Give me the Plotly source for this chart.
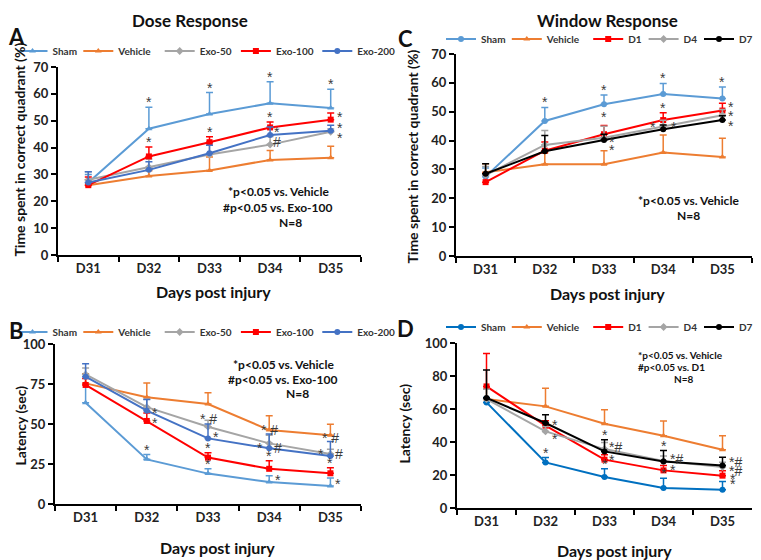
import plotly.graph_objects as go

days = ["D31", "D32", "D33", "D34", "D35"]

# A - dose response, time spent in correct quadrant (%)
a_names = ["Sham", "Vehicle", "Exo-50", "Exo-100", "Exo-200"]
a_sham = [27, 47, 52.5, 56.5, 54.7]
a_vehicle = [26, 29.4, 31.5, 35.4, 36.2]
a_exo50 = [28, 32.7, 37.4, 41.1, 45.9]
a_exo100 = [26, 36.7, 42, 47.5, 50.4]
a_exo200 = [27, 31.7, 37.9, 44.7, 46.3]
a_err = {"Sham": [3, 8, 8, 8, 7], "Vehicle": [2, 2, 5, 3.5, 4.3], "Exo-50": [3, 3, 4, 3, 1],
         "Exo-100": [3, 3.5, 2, 2, 2.5], "Exo-200": [4, 3, 3, 3, 2]}

# B - dose response, latency (sec)
b_sham = [63.3, 27.9, 19, 13.7, 11.2]
b_vehicle = [75.4, 66.7, 62.5, 46.2, 42.9]
b_exo50 = [81, 60.5, 48.3, 37.9, 31.2]
b_exo100 = [74.4, 51.9, 29, 22, 19.2]
b_exo200 = [79.6, 58.3, 41, 34.8, 30]
b_err = {"Sham": [12, 3, 3, 4, 5], "Vehicle": [6, 9, 7, 9, 7], "Exo-50": [4, 5, 4, 5, 3],
         "Exo-100": [4, 5, 3, 5, 3.5], "Exo-200": [8, 7, 9, 9, 9]}

# C - window response, time spent in correct quadrant (%)
c_names = ["Sham", "Vehicle", "D1", "D4", "D7"]
c_sham = [27.5, 46.8, 52.6, 56.1, 54.6]
c_vehicle = [29, 31.8, 31.8, 35.9, 34.3]
c_d1 = [25.6, 36.5, 42.2, 47.1, 50.4]
c_d4 = [28, 38.5, 41, 45, 48.8]
c_d7 = [28.5, 36.3, 40.2, 43.9, 47.1]
c_err = {"Sham": [3, 4.7, 3.2, 3.7, 4], "Vehicle": [3, 4, 4.7, 6, 6.5], "D1": [3, 3, 3, 2.5, 2.5],
         "D4": [3, 5, 4, 2, 2], "D7": [3.5, 5.5, 2, 1.5, 1.5]}

# D - window response, latency (sec)
d_sham = [64, 27.6, 18.8, 12.1, 11.1]
d_vehicle = [66, 61.6, 51.1, 43.8, 35.3]
d_d1 = [73.7, 49.9, 29.3, 22.8, 19.6]
d_d4 = [66, 46.4, 35.7, 28.5, 24.8]
d_d7 = [66.7, 51.5, 34.3, 28.2, 25.8]
d_err = {"Sham": [3, 3, 5, 6, 5], "Vehicle": [6, 11, 8.5, 9, 8.5], "D1": [20, 3, 3, 3, 3],
         "D4": [6, 3, 4, 3, 3], "D7": [17, 5, 7, 6.6, 5]}

# significance marks: (series, day index, text, anchor "top"=error bar top / "pt"=point, dx, dy)
a_marks = [("Sham", 1, "*", "top", 0, 0), ("Sham", 2, "*", "top", 0, 0), ("Sham", 3, "*", "top", 0, 0),
           ("Sham", 4, "*", "top", 0, 0), ("Exo-100", 1, "*", "top", 0, 0), ("Exo-100", 2, "*", "top", 0, 0),
           ("Exo-100", 3, "*", "top", 0, 0), ("Exo-200", 3, "*", "pt", 7, 5), ("Exo-50", 3, "#", "pt", 7, 5),
           ("Exo-100", 4, "*", "pt", 9, 5), ("Exo-200", 4, "*", "pt", 9, 5), ("Exo-50", 4, "*", "pt", 9, -4)]
b_marks = [("Exo-200", 1, "*", "pt", 8, 0), ("Exo-100", 1, "*", "pt", 8, 0), ("Sham", 1, "*", "top", 0, 0),
           ("Exo-200", 2, "* #", "top", 0, 0), ("Exo-200", 2, "*", "pt", 8, 3), ("Exo-100", 2, "*", "top", 0, 0),
           ("Sham", 2, "*", "top", 0, 0), ("Exo-200", 3, "* #", "top", 0, -1), ("Exo-200", 3, "*   #", "pt", 0, 2),
           ("Exo-100", 3, "*", "top", 0, 0), ("Sham", 3, "*", "pt", 9, 4), ("Exo-200", 4, "* #", "top", 0, -1),
           ("Exo-200", 4, "*   #", "pt", 0, 4), ("Exo-100", 4, "*", "top", 0, 0), ("Sham", 4, "*", "pt", 8, 4)]
c_marks = [("Sham", 1, "*", "top", 0, 0), ("Sham", 2, "*", "top", 0, 0), ("Sham", 3, "*", "top", 0, 0),
           ("Sham", 4, "*", "top", 0, 0), ("D4", 2, "*", "top", 0, 4), ("D7", 2, "*", "pt", 8, 0),
           ("D7", 2, "*", "pt", 8, -8), ("D1", 3, "*", "top", 0, 0), ("D7", 3, "*    *", "pt", 0, 4),
           ("D1", 4, "*", "pt", 9, 6), ("D4", 4, "*", "pt", 9, 1), ("D7", 4, "*", "pt", 9, -4)]
d_marks = [("D7", 1, "*", "pt", 9, 0), ("D4", 1, "*", "pt", 9, -6), ("Sham", 1, "*", "top", 0, 0),
           ("D7", 2, "*", "top", 0, 0), ("D7", 2, "*#", "pt", 11, 6), ("D1", 2, "*", "pt", 7, 2),
           ("Sham", 2, "*", "top", 0, 0), ("D7", 3, "*", "top", 0, 0), ("D7", 3, "*#", "pt", 13, 4),
           ("D1", 3, "*", "pt", 9, 2), ("Sham", 3, "*", "top", 0, 0), ("D7", 4, "*#", "pt", 13, 5),
           ("D4", 4, "*#", "pt", 13, -2), ("D1", 4, "*", "pt", 10, -1), ("Sham", 4, "*", "pt", 10, 8)]

FONT = "Lato"
STAR_FONT = "Liberation Sans"
DARK = "#3a3a3a"
W, H = 761, 560
OFF = 8  # default body margin of the html page


def px(x):  # page pixel -> paper fraction
    return (x - OFF) / W


def py(y):
    return 1 - (y - OFF) / H


panels = [
    # values, errors, colours, symbols, axis suffix, legend, marks
    (dict(zip(a_names, [a_sham, a_vehicle, a_exo50, a_exo100, a_exo200])), a_err,
     ["#5B9BD5", "#ED7D31", "#A5A5A5", "#FF0000", "#4472C4"],
     ["triangle-up", "triangle-up", "diamond", "square", "circle"], "", "legend", a_marks),
    (dict(zip(a_names, [b_sham, b_vehicle, b_exo50, b_exo100, b_exo200])), b_err,
     ["#5B9BD5", "#ED7D31", "#A5A5A5", "#FF0000", "#4472C4"],
     ["triangle-up", "triangle-up", "diamond", "square", "circle"], "2", "legend2", b_marks),
    (dict(zip(c_names, [c_sham, c_vehicle, c_d1, c_d4, c_d7])), c_err,
     ["#5B9BD5", "#ED7D31", "#FF0000", "#A5A5A5", "#000000"],
     ["circle", "triangle-up", "square", "diamond", "circle"], "3", "legend3", c_marks),
    (dict(zip(c_names, [d_sham, d_vehicle, d_d1, d_d4, d_d7])), d_err,
     ["#0070C0", "#ED7D31", "#FF0000", "#A5A5A5", "#000000"],
     ["circle", "triangle-up", "square", "diamond", "circle"], "4", "legend4", d_marks),
]

fig = go.Figure()
annotations = []
for vals, errs, colors, symbols, ax, leg, marks in panels:
    for (name, y), c, s in zip(vals.items(), colors, symbols):
        fig.add_trace(go.Scatter(
            x=days, y=y, name=name, mode="lines+markers", xaxis="x" + ax, yaxis="y" + ax, legend=leg,
            legendwidth=len(name) * 5.2,
            line=dict(color=c, width=2), marker=dict(color=c, symbol=s, size=6),
            error_y=dict(type="data", symmetric=False, array=errs[name], arrayminus=[0] * 5,
                         color=c, thickness=1.5, width=3.5)))
    for name, i, txt, where, dx, dy in marks:
        y = vals[name][i] + (errs[name][i] if where == "top" else 0)
        annotations.append(dict(x=i, y=y, xref="x" + ax, yref="y" + ax, text=txt, showarrow=False,
                                xanchor="center", yanchor="bottom" if where == "top" else "middle",
                                xshift=dx, yshift=dy + (-5 if where == "top" else -2),
                                font=dict(family=STAR_FONT, size=14, color=DARK)))

axis_common = dict(showline=True, linecolor="black", linewidth=2, ticks="outside", ticklen=5,
                   tickwidth=2, tickcolor="black", showgrid=False, zeroline=False,
                   tickfont=dict(family=FONT, size=13, color="#222", weight="bold"))
xax = dict(axis_common, type="category", range=[-0.5, 4.5], tickson="boundaries")


def leg(xc, yc):
    return dict(orientation="h", x=px(xc), y=py(yc), xanchor="center", yanchor="middle",
                bgcolor="rgba(0,0,0,0)", itemwidth=30, tracegroupgap=0,
                font=dict(family=FONT, size=10, color="#333", weight="bold"))


fig.update_layout(
    width=W, height=H, margin=dict(l=0, r=0, t=0, b=0, autoexpand=False),
    paper_bgcolor="white", plot_bgcolor="white", showlegend=True,
    xaxis=dict(xax, domain=[px(58), px(361)], anchor="y"),
    yaxis=dict(axis_common, domain=[py(255), py(67)], range=[0, 70], dtick=10, anchor="x"),
    xaxis2=dict(xax, domain=[px(55), px(361)], anchor="y2"),
    yaxis2=dict(axis_common, domain=[py(504), py(344)], range=[0, 100], dtick=25, anchor="x2"),
    xaxis3=dict(xax, domain=[px(456), px(752)], anchor="y3"),
    yaxis3=dict(axis_common, domain=[py(256), py(54)], range=[0, 70], dtick=10, anchor="x3"),
    xaxis4=dict(xax, domain=[px(457), px(752)], anchor="y4"),
    yaxis4=dict(axis_common, domain=[py(508), py(343)], range=[0, 100], dtick=20, anchor="x4"),
    legend=leg(206, 51),
    legend2=leg(206, 332),
    legend3=leg(598, 39),
    legend4=leg(598, 327),
)


def txt(x, y, s, size=12, anchor="center", angle=0, yanchor="middle"):
    annotations.append(dict(x=px(x), y=py(y), xref="paper", yref="paper", text=s, showarrow=False,
                            xanchor=anchor, yanchor=yanchor, textangle=angle,
                            font=dict(family=FONT, size=size, color="#111", weight="bold")))


txt(190, OFF, "Dose Response", 17, yanchor="top")
txt(607, OFF, "Window Response", 17, yanchor="top")
txt(16, 36, "A", 22)
txt(405, 38, "C", 22)
txt(16, 330, "B", 22)
txt(405, 328, "D", 22)
# axis titles
txt(OFF, 150, "Time spent in correct quadrant (%)", 14, anchor="left", angle=-90)
txt(402, 156, "Time spent in correct quadrant (%)", 14, anchor="left", angle=-90)
txt(OFF + 1, 426, "Latency (sec)", 14, anchor="left", angle=-90)
txt(393, 424, "Latency (sec)", 14, anchor="left", angle=-90)
txt(213, 291, "Days post injury", 16)
txt(607, 293, "Days post injury", 16)
txt(217, 547, "Days post injury", 16)
txt(614, 550, "Days post injury", 16)
# statistics notes
txt(278, 192, "*p<0.05 vs. Vehicle", 12)
txt(278, 207, "#p<0.05 vs. Exo-100", 12)
txt(290, 222, "N=8", 12)
txt(688, 200, "*p<0.05 vs. Vehicle", 12)
txt(688, 215, "N=8", 12)
txt(283, 364, "*p<0.05 vs. Vehicle", 12)
txt(283, 379, "#p<0.05 vs. Exo-100", 12)
txt(297, 393, "N=8", 12)
txt(636, 355, "*p<0.05 vs. Vehicle", 10, "left")
txt(636, 367, "#p<0.05 vs. D1", 10, "left")
txt(684, 379, "N=8", 10)

fig.update_layout(annotations=annotations)
fig.write_html("out.html")
